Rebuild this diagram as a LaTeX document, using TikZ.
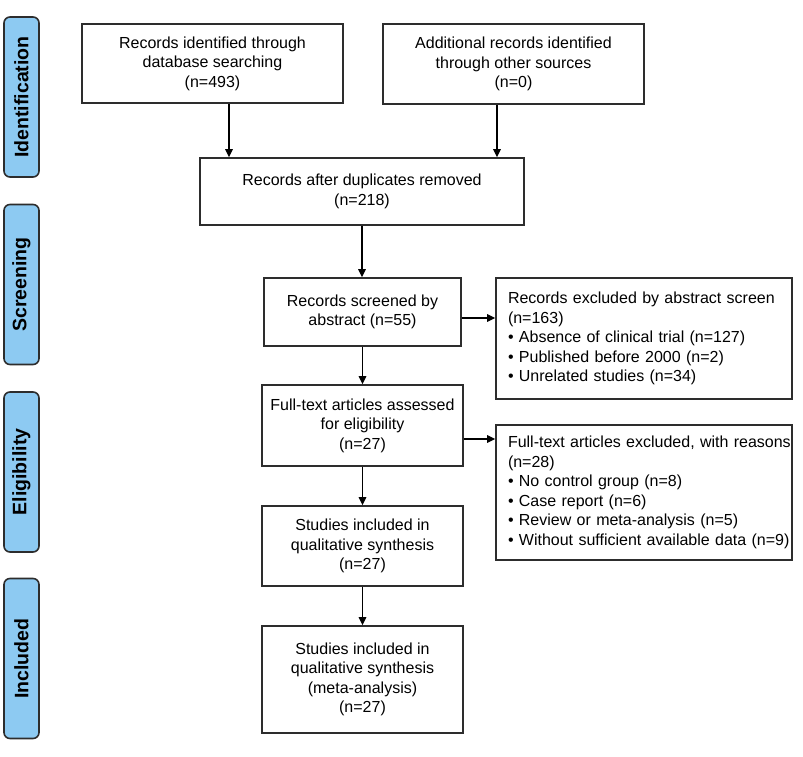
\documentclass[tikz,border=0pt]{standalone}
\usepackage{fontspec}
\setmainfont{Liberation Sans}
\usetikzlibrary{arrows.meta}
\definecolor{phase}{RGB}{141,202,242}
\definecolor{edge}{RGB}{45,45,45}
\newcommand{\xline}[1]{\mbox{#1}}
\begin{document}
\begin{tikzpicture}[x=1pt,y=-1pt,
  box/.style={draw=edge,line width=1.6pt,fill=white,inner sep=0pt,align=center,
    font=\fontsize{16}{19.5}\selectfont},
  xbox/.style={draw=edge,line width=1.6pt,fill=white,inner xsep=12pt,inner ysep=0pt,
    align=left,text width=272pt,minimum width=296pt,
    font=\fontsize{16}{19.5}\selectfont},
  phasebox/.style={draw=edge,line width=1.6pt,fill=phase,rounded corners=6pt,rotate=90,
    minimum width=160pt,minimum height=35pt,inner sep=0pt,
    font=\fontsize{19.5}{20}\selectfont\bfseries},
  arr/.style={draw=black,line width=1.4pt,-{Triangle[length=8pt,width=7.5pt]}}]
\useasboundingbox (0,0) rectangle (803,756);
\fill[white] (0,0) rectangle (803,756);

\node[phasebox] (p1) at (21.5,97) {Identification};
\node[phasebox] (p2) at (21.5,284.5) {Screening};
\node[phasebox] (p3) at (21.5,472) {Eligibility};
\node[phasebox] (p4) at (21.5,658.5) {Included};

\node[box,minimum width=261pt,minimum height=79pt] (b1) at (212.5,63.5)
  {Records identified through\\database searching\\(n=493)};
\node[box,minimum width=261pt,minimum height=80pt] (b2) at (513.5,64)
  {Additional records identified\\through other sources\\(n=0)};
\node[box,minimum width=324pt,minimum height=67pt] (b3) at (362,191.5)
  {Records after duplicates removed\\(n=218)};
\node[box,minimum width=197pt,minimum height=68pt] (b4) at (362.5,312)
  {Records screened by\\abstract (n=55)};
\node[box,minimum width=201pt,minimum height=81pt] (b5) at (362.5,425.5)
  {Full-text articles assessed\\for eligibility\\(n=27)};
\node[box,minimum width=201pt,minimum height=80pt] (b6) at (362.5,546)
  {Studies included in\\qualitative synthesis\\(n=27)};
\node[box,minimum width=201pt,minimum height=107pt] (b7) at (362.5,679.5)
  {Studies included in\\qualitative synthesis\\(meta-analysis)\\(n=27)};

\node[xbox,minimum height=121pt] (e1) at (644,338.5)
  {\xline{Records excluded by abstract screen}\\\xline{(n=163)}\\\xline{\textbullet{} Absence of clinical trial (n=127)}\\\xline{\textbullet{} Published before 2000 (n=2)}\\\xline{\textbullet{} Unrelated studies (n=34)}};
\node[xbox,minimum height=135pt] (e2) at (644,492.5)
  {\xline{Full-text articles excluded, with reasons}\\\xline{(n=28)}\\\xline{\textbullet{} No control group (n=8)}\\\xline{\textbullet{} Case report (n=6)}\\\xline{\textbullet{} Review or meta-analysis (n=5)}\\\xline{\textbullet{} Without sufficient available data (n=9)}};

\draw[arr] ([xshift=16.5pt]b1.south) -- ([xshift=16.5pt]b1.south |- b3.north);
\draw[arr] ([xshift=-16.5pt]b2.south) -- ([xshift=-16.5pt]b2.south |- b3.north);
\draw[arr] (b3.south) -- (b3.south |- b4.north);
\draw[arr] (b4.south) -- (b4.south |- b5.north);
\draw[arr] (b5.south) -- (b5.south |- b6.north);
\draw[arr] (b6.south) -- (b6.south |- b7.north);
\draw[arr] ([yshift=-6pt]b4.east) -- ([yshift=-6pt]b4.east -| e1.west);
\draw[arr] ([yshift=-13.5pt]b5.east) -- ([yshift=-13.5pt]b5.east -| e2.west);
\end{tikzpicture}
\end{document}
